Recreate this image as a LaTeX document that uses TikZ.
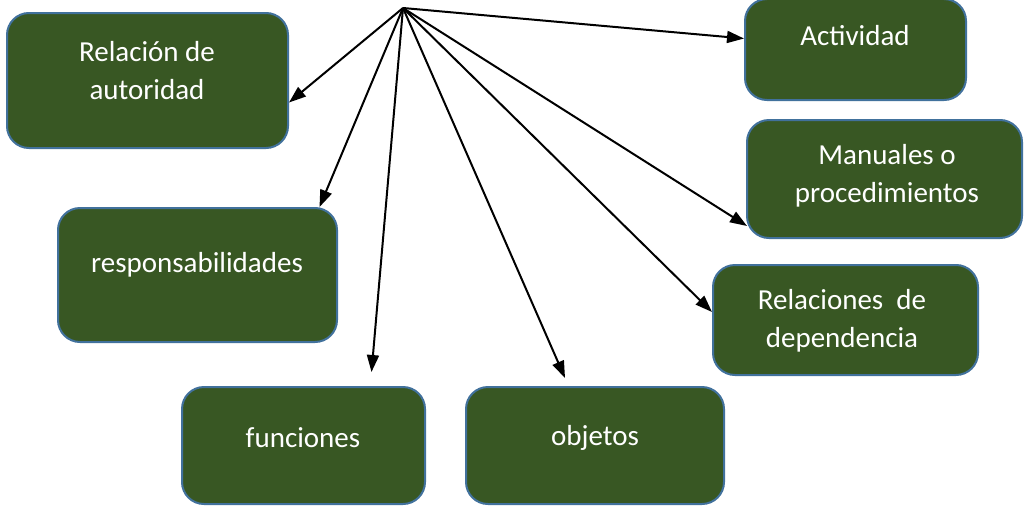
\documentclass[tikz,border=0pt]{standalone}
\usepackage{fontspec}
\setmainfont{Carlito}
\usetikzlibrary{arrows.meta,calc}
\definecolor{boxgreen}{HTML}{385723}
\definecolor{boxblue}{HTML}{41719C}
\tikzset{
  box/.style={draw=boxblue, line width=2pt, fill=boxgreen, rounded corners=22pt, inner sep=0pt},
  boxtext/.style={text=white, align=center, font=\fontsize{29}{38}\selectfont, inner sep=0pt},
  arr/.style={line width=2pt, -{Triangle[length=17pt,width=12pt]}}
}
\begin{document}
\begin{tikzpicture}[x=1pt,y=-1pt]
\useasboundingbox (0,0) rectangle (1024,506);
\fill[white] (0,0) rectangle (1024,506);
\coordinate (o) at (403,8);
% boxes
\node[box, minimum width=281pt, minimum height=135pt] (rel) at (147.5,80.5) {};
\node[box, minimum width=279pt, minimum height=134pt] (resp) at (197.5,275) {};
\node[box, minimum width=243pt, minimum height=117pt] (fun) at (303.5,445.5) {};
\node[box, minimum width=258pt, minimum height=117pt] (obj) at (595,445.5) {};
\node[box, minimum width=265pt, minimum height=110pt] (dep) at (845.5,320) {};
\node[box, minimum width=275pt, minimum height=118pt] (man) at (884.5,179) {};
\node[box, minimum width=221pt, minimum height=101pt] (act) at (855.5,49.5) {};
% texts
\node[boxtext] (trel) at (147,71) {Relación de\\autoridad};
\node[boxtext] (tresp) at (197,265) {responsabilidades};
\node[boxtext] (tfun) at (303,438) {funciones};
\node[boxtext] (tobj) at (595,438) {objetos};
\node[boxtext] (tdep) at (842,321) {Relaciones\ \ de\\dependencia};
\node[boxtext] (tman) at (887,176) {Manuales o\\procedimientos};
\node[boxtext] (tact) at (855,36) {Actividad};
% arrows
\draw[arr] (o) -- ([yshift=-22pt]rel.east);
\draw[arr] (o) -- ([xshift=122pt]resp.north);
\draw[arr] (o) -- ([xshift=68pt,yshift=14pt]fun.north);
\draw[arr] (o) -- ([xshift=-30pt,yshift=8pt]obj.north);
\draw[arr] (o) -- ([yshift=8pt]dep.west);
\draw[arr] (o) -- ([xshift=1pt,yshift=13pt]man.south west);
\draw[arr] (o) -- ([yshift=11pt]act.west);
\end{tikzpicture}
\end{document}
